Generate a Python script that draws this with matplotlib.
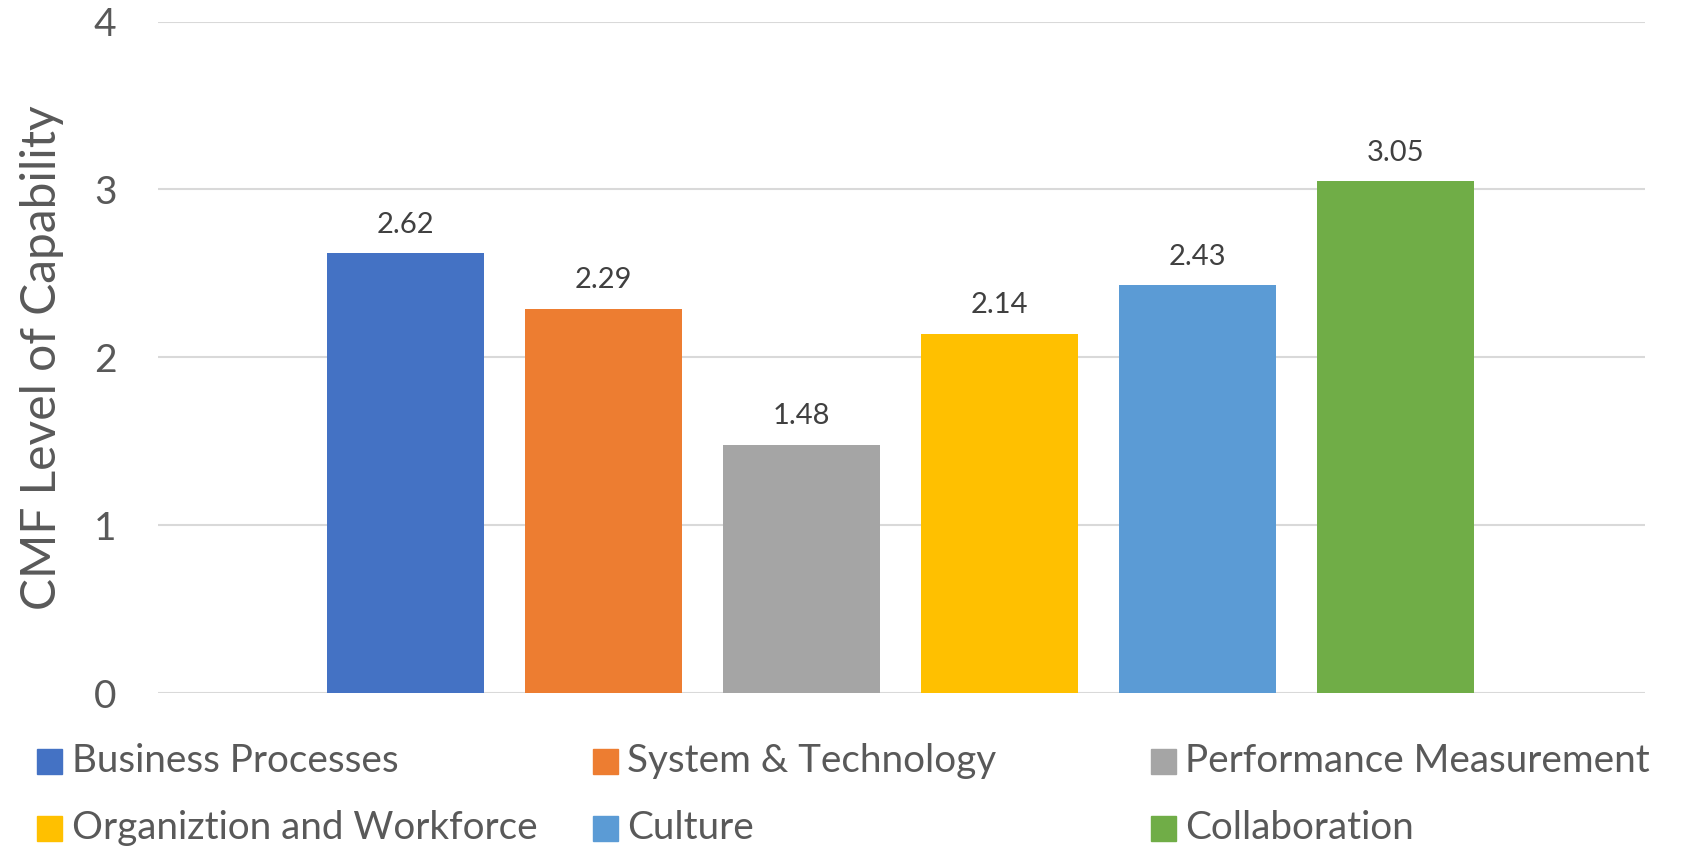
import matplotlib
matplotlib.use('Agg')
import matplotlib.pyplot as plt
from matplotlib.patches import Rectangle

# chart values
categories = ['Business Processes', 'System & Technology', 'Performance Measurement',
              'Organiztion and Workforce', 'Culture', 'Collaboration']
scores = [2.62, 2.29, 1.48, 2.14, 2.43, 3.05]
colors = ['#4472C4', '#ED7D31', '#A5A5A5', '#FFC000', '#5B9BD5', '#70AD47']
yticks = [0, 1, 2, 3, 4]

plt.rcParams['font.family'] = ['Lato', 'DejaVu Sans']

W, H = 1683, 849
fig = plt.figure(figsize=(W / 100, H / 100), dpi=100)
ax = fig.add_axes([158 / W, 1 - 693 / H, (1645 - 158) / W, (693 - 21.5) / H])

xs = list(range(len(scores)))
bars = ax.bar(xs, scores, width=0.79, color=colors, zorder=3)
for b, v in zip(bars, scores):
    ax.annotate('%.2f' % v, (b.get_x() + b.get_width() / 2, v), xytext=(0, 11),
                textcoords='offset points', ha='center', va='bottom',
                fontsize=21, color='#404040')

ax.set_xlim(-1.25, 6.26)
ax.set_ylim(0, 4)
ax.set_yticks(yticks)
ax.set_xticks([])
ax.grid(axis='y', color='#D9D9D9', linewidth=1.5, zorder=0)
for s in ax.spines.values():
    s.set_visible(False)
ax.tick_params(axis='y', length=0, pad=30, labelsize=28, labelcolor='#595959')
ax.set_ylabel('CMF Level of Capability', fontsize=34.5, color='#595959')
ax.yaxis.set_label_coords(-0.063, 0.5)

# legend: 3 columns, 2 rows
col_x = [37.5, 593, 1151]
row_y = [761, 828]
sq = 25
for i, (name, c) in enumerate(zip(categories, colors)):
    x0 = col_x[i % 3]
    y0 = row_y[i // 3]
    fig.add_artist(Rectangle((x0 / W, 1 - (y0 + sq / 2) / H), sq / W, sq / H,
                             transform=fig.transFigure, color=c))
    fig.text((x0 + sq + 9) / W, 1 - y0 / H, name, fontsize=27.8, color='#595959',
             ha='left', va='center')

fig.savefig('out.png', dpi=100)
